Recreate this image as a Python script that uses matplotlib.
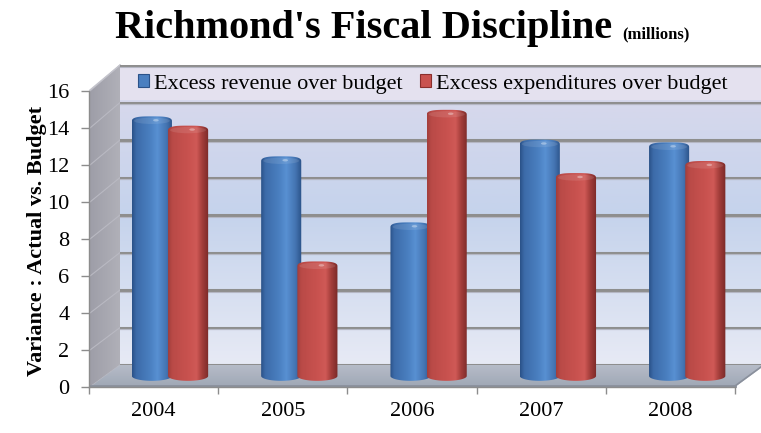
import numpy as np
import matplotlib
matplotlib.use("Agg")
import matplotlib.pyplot as plt
from matplotlib.colors import LinearSegmentedColormap
from matplotlib.patches import Polygon, PathPatch, Patch, Ellipse
from matplotlib.path import Path

# ---------------- data ----------------
years = ["2004", "2005", "2006", "2007", "2008"]
revenue_excess = [13.7, 11.55, 8.0, 12.45, 12.3]
expend_excess = [13.2, 5.9, 14.05, 10.65, 11.3]
series_names = ["Excess revenue over budget", "Excess expenditures over budget"]
yticks = [0, 2, 4, 6, 8, 10, 12, 14, 16]

W, H = 761, 433
SERIF = "Liberation Serif"
plt.rcParams["font.family"] = [SERIF, "DejaVu Serif"]

fig = plt.figure(figsize=(W / 100, H / 100), dpi=100)
fig.patch.set_facecolor("white")


def rect(x0, y_top, x1, y_bot):
    """figure-fraction rect from pixel box"""
    return [x0 / W, 1 - y_bot / H, (x1 - x0) / W, (y_bot - y_top) / H]


# ---------- decoration layer (side wall) in pixel space ----------
deco = fig.add_axes([0, 0, 1, 1], zorder=0)
deco.set_xlim(0, W)
deco.set_ylim(H, 0)
deco.axis("off")

side = Polygon([(90, 90), (120, 65), (120, 365), (90, 387)], closed=True,
               facecolor="none", edgecolor="none")
deco.add_patch(side)
side_cmap = LinearSegmentedColormap.from_list("side", ["#9e9ea8", "#b0b0b8"])
im = deco.imshow(np.linspace(0, 1, 64).reshape(1, -1), cmap=side_cmap,
                 extent=(90, 120, 387, 65), aspect="auto", zorder=1)
im.set_clip_path(side)
for i, v in enumerate(yticks):
    deco.plot([90, 120], [387 - v * 18.5, 365 - v * 18.75], color="#b9b9c2",
              lw=0.8, zorder=2)
deco.plot([90, 120], [90, 65], color="#c4c4cc", lw=1.0, zorder=2)
deco.set_xlim(0, W)
deco.set_ylim(H, 0)

# ---------- back wall with grid ----------
ax_back = fig.add_axes(rect(120, 65, 765, 365), zorder=1)
ax_back.set_xlim(0, 1)
ax_back.set_ylim(0, 16)
wall_cmap = LinearSegmentedColormap.from_list(
    "wall", [(0, "#e7eaf5"), (0.5, "#c5d3ec"), (1.0, "#dcdaec")])
ax_back.imshow(np.linspace(0, 1, 128).reshape(-1, 1), cmap=wall_cmap,
               origin="lower", extent=(0, 1, 0, 16), aspect="auto", zorder=0)
ax_back.axhspan(14.12, 15.9, color="#e4e1ef", zorder=0.5, lw=0)
ax_back.set_yticks(yticks)
ax_back.set_xticks([])
for v in yticks:
    ax_back.axhline(v, color="#8e8e8e", lw=2.2, zorder=1)
    ax_back.axhline(v - 0.09, color="#b5b7c4", lw=0.8, zorder=1)
ax_back.tick_params(left=False, labelleft=False)
for s in ax_back.spines.values():
    s.set_visible(False)
ax_back.set_xlim(0, 1)
ax_back.set_ylim(0, 16)

# ---------- floor ----------
deco2 = fig.add_axes([0, 0, 1, 1], zorder=2)
deco2.set_xlim(0, W)
deco2.set_ylim(H, 0)
deco2.axis("off")
deco2.patch.set_alpha(0)
floor_cmap = LinearSegmentedColormap.from_list("floor", ["#b6bcc8", "#9fa7b5"])
floor2 = Polygon([(90, 387), (735, 387), (765, 365), (120, 365)], closed=True,
                 facecolor="none", edgecolor="none")
deco2.add_patch(floor2)
im = deco2.imshow(np.linspace(0, 1, 64).reshape(-1, 1), cmap=floor_cmap,
                  extent=(90, 765, 387, 365), aspect="auto", zorder=1)
im.set_clip_path(floor2)
deco2.plot([90, 735], [386, 386], color="#8a909c", lw=2.0, zorder=2)
deco2.plot([735, 765], [386, 364], color="#8a909c", lw=1.2, zorder=2)
deco2.set_xlim(0, W)
deco2.set_ylim(H, 0)

# ---------- bars (mid-depth plane) ----------
px_per_cat = 129.3
px_per_unit = 18.6
x_left, x_right, y_top, y_bot = 90, 765, 60, 395
center0, zero_y = 170, 376
ax = fig.add_axes(rect(x_left, y_top, x_right, y_bot), zorder=3)
ax.patch.set_alpha(0)
xl = ((x_left - center0) / px_per_cat, (x_right - center0) / px_per_cat)
yl = ((zero_y - y_bot) / px_per_unit, (zero_y - y_top) / px_per_unit)
ax.axis("off")

blue_cmap = LinearSegmentedColormap.from_list(
    "b", [(0, "#2b5289"), (0.1, "#3c6ba9"), (0.45, "#4b80c1"), (0.62, "#5890d2"),
          (0.85, "#4474b2"), (1.0, "#2b5288")])
red_cmap = LinearSegmentedColormap.from_list(
    "r", [(0, "#a33e3b"), (0.1, "#b94a47"), (0.5, "#c9524f"), (0.7, "#cf5956"),
          (0.84, "#a43e3b"), (1.0, "#7a2a28")])

xpos = np.arange(len(years))
bw = 0.31
off = 0.14
cap = 0.26


def cyl_path(x0, w, h):
    xc, a = x0 + w / 2, w / 2
    t1 = np.linspace(np.pi, 0, 40)
    top = np.column_stack([xc + a * np.sign(np.cos(t1)) * np.abs(np.cos(t1)) ** 0.6,
                           h + cap * np.sin(t1) ** 0.8])
    t2 = np.linspace(0, -np.pi, 40)
    bot = np.column_stack([xc + a * np.cos(t2), cap * np.sin(t2)])
    verts = np.vstack([top, bot, top[:1]])
    return Path(verts, closed=True)


for k, (vals, cm, dx) in enumerate([(revenue_excess, blue_cmap, -off),
                                     (expend_excess, red_cmap, off)]):
    bars = ax.bar(xpos + dx, vals, width=bw, color="none", edgecolor="none")
    for b in bars:
        x0, w, h = b.get_x(), b.get_width(), b.get_height()
        pp = PathPatch(cyl_path(x0, w, h), facecolor="none", edgecolor="none",
                       transform=ax.transData)
        ax.add_patch(pp)
        im = ax.imshow(np.linspace(0, 1, 64).reshape(1, -1), cmap=cm,
                       extent=(x0, x0 + w, -cap, h + cap), aspect="auto",
                       zorder=3 + k)
        im.set_clip_path(pp)
        ax.add_patch(Ellipse((x0 + w * 0.5, h + 0.02), w * 0.9, cap * 1.3,
                             facecolor="white", alpha=0.10, edgecolor="none",
                             zorder=3.5 + k))
        ax.add_patch(Ellipse((x0 + w * 0.6, h + 0.05), w * 0.14, cap * 0.5,
                             facecolor="white", alpha=0.35, edgecolor="none",
                             zorder=3.6 + k))
ax.set_xlim(*xl)
ax.set_ylim(*yl)

# ---------- front axis ----------
ax_f = fig.add_axes(rect(89, 91, 735, 387), zorder=4)
ax_f.patch.set_alpha(0)
ax_f.set_xlim(0, len(years))
ax_f.set_ylim(0, 16)
ax_f.set_yticks(yticks)
ax_f.set_yticklabels([str(v) for v in yticks], fontsize=16, family=SERIF)
ax_f.set_xticks(np.arange(len(years) + 1))
ax_f.set_xticklabels([])
ax_f.set_xticks(np.arange(len(years)) + 0.5, minor=True)
ax_f.set_xticklabels(years, minor=True, fontsize=16, family=SERIF)
ax_f.tick_params(axis="x", which="minor", length=0, pad=11)
ax_f.tick_params(axis="x", which="major", length=5, color="#8c8c8c", width=1)
ax_f.tick_params(axis="y", length=6, color="#8c8c8c", width=1, pad=8)
for s in ["top", "right"]:
    ax_f.spines[s].set_visible(False)
for s in ["left", "bottom"]:
    ax_f.spines[s].set_color("#8c8c8c")
    ax_f.spines[s].set_linewidth(1)

# ---------- texts ----------
fig.text(115 / W, 1 - 38 / H, "Richmond's Fiscal Discipline", fontsize=29,
         fontweight="bold", family=SERIF, ha="left", va="baseline")
fig.text(622 / W, 1 - 38 / H, "(millions)", fontsize=12, fontweight="bold",
         family=SERIF, ha="left", va="baseline")
fig.text(37 / W, 1 - 241 / H, "Variance : Actual vs. Budget", fontsize=16,
         fontweight="bold", family=SERIF, rotation=90, ha="center", va="center")

handles = [Patch(facecolor="#4a7fc0", edgecolor="#2b5289", lw=0.8),
           Patch(facecolor="#c9524f", edgecolor="#8a2f2d", lw=0.8)]
leg = fig.legend(handles, series_names, loc="center left", ncol=2,
                 bbox_to_anchor=(138 / W, 1 - 84 / H), frameon=False,
                 prop={"family": SERIF, "size": 16}, handlelength=0.5,
                 handleheight=0.5, handletextpad=0.2, columnspacing=0.8,
                 borderaxespad=0, borderpad=0)
leg.set_zorder(5)

fig.savefig("out.png", dpi=100)
